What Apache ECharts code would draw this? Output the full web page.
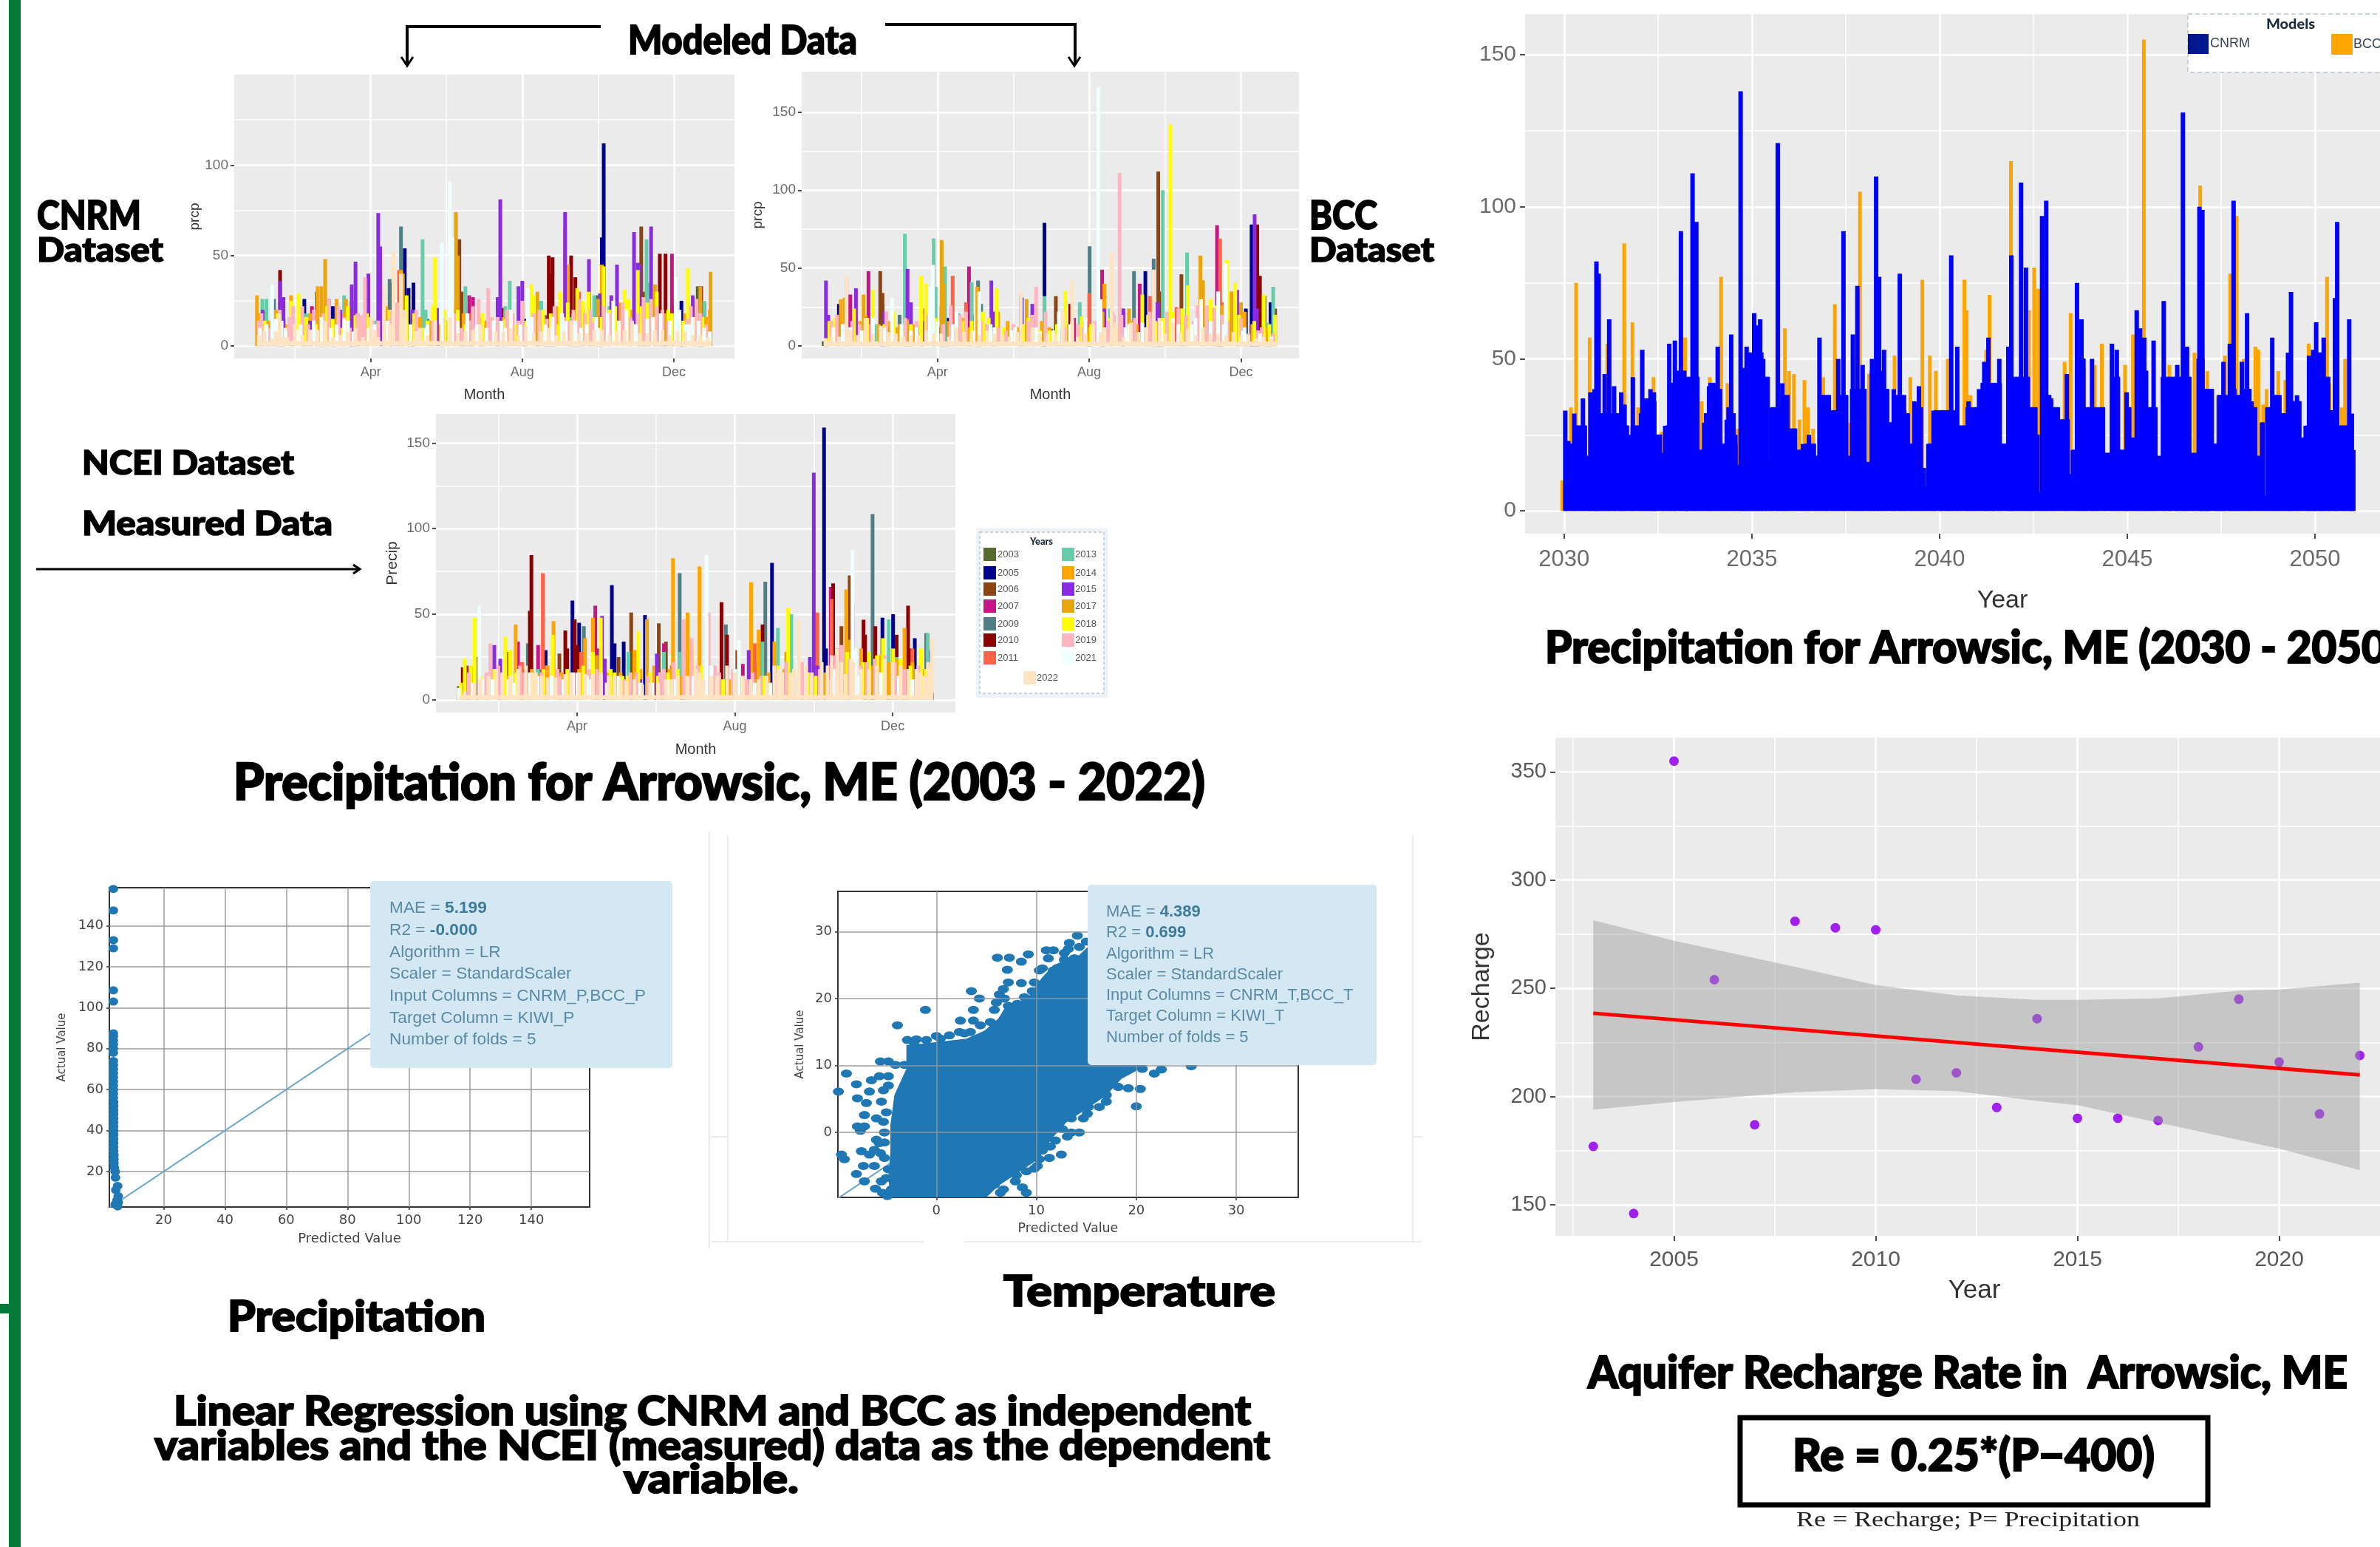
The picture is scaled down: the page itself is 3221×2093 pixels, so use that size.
<!DOCTYPE html>
<html><head><meta charset="utf-8"><title>Precipitation and recharge, Arrowsic ME</title>
<script src="https://cdn.jsdelivr.net/npm/echarts@6/dist/echarts.min.js"></script>
<style>html,body{margin:0;padding:0;background:#fff}#c{width:3221px;height:2093px}</style></head>
<body><div id="c"></div>
<script>
// ---------- legend ----------
const years=['2003','2005','2006','2007','2009','2010','2011','2013','2014','2015','2017','2018','2019','2021','2022'];
const yearColors=['#556B2F','#00008B','#8B4513','#C71585','#4F7F85','#8B0000','#FF6347','#66CDAA','#FFA500','#8A2BE2','#E8A50E','#FFFF00','#FFB6C1','#F0FFFF','#FFE4C4'];
// ---------- CNRM dataset: [month, prcp] ----------
const cnrm2003=[[1.05,8],[1.5,12],[2.58,30],[2.7,14],[3.3,10],[4.3,8],[5.1,15],[6.7,10],[8.6,9],[9.98,28],[11.3,9],[12.63,33]];
const cnrm2005=[[1.7,15],[2.25,26],[3,22],[3.65,18],[4.55,35],[4.9,54],[5,32],[5.13,35],[6.9,8],[8.1,15],[10.1,60],[10.15,112],[12.2,25]];
const cnrm2006=[[4.35,30],[6.34,59],[6.4,30],[8.6,17],[9.6,20],[11.14,66],[11.2,30],[12.1,14]];
const cnrm2007=[[2.45,22],[3.5,25],[4.85,24],[6.6,28],[6.7,27],[8.1,14],[9.95,18],[10.8,20],[11.95,51],[12,22]];
const cnrm2009=[[1.05,6],[1.3,12],[1.45,26],[3.9,27],[4.5,37],[4.8,66],[5.5,15],[7.4,22],[11.35,20]];
const cnrm2010=[[1.61,42],[1.95,14],[7.5,21],[8.7,50],[8.75,40],[8.8,49],[9.29,50],[9.4,38],[11.63,51],[11.78,51],[12.72,33],[12.8,24]];
const cnrm2011=[[2.7,15],[4.75,42],[5.9,14],[6.6,18],[7,12],[7.3,10],[8.4,22],[9.5,30],[11.5,27],[12.4,21]];
const cnrm2013=[[1.14,26],[1.25,26],[2.3,18],[3.3,28],[3.5,22],[4.1,14],[5.37,59],[5.45,20],[6.5,33],[6.9,11],[7.55,22],[7.67,36],[8.5,25],[9.3,16],[9.9,28],[10.3,22],[11.28,59],[11.35,35],[12.2,12],[12.8,25]];
const cnrm2014=[[1,28],[1.05,18],[1.3,14],[1.5,20],[1.75,12],[1.9,28],[2.2,16],[2.4,18],[2.6,33],[2.95,15],[3.1,26],[3.3,18],[3.55,20],[3.8,12],[4.05,11],[4.4,22],[4.8,42],[5.3,16],[5.6,14],[5.85,12],[6.2,25],[6.45,18],[6.9,16],[7.05,14],[7.3,12],[7.5,16],[7.7,10],[8.05,12],[8.2,18],[8.45,15],[8.9,22],[9.13,65],[9.2,45],[9.35,18],[9.5,14],[9.85,16],[10.1,45],[10.25,14],[10.6,24],[10.85,20],[11.25,12],[11.5,26],[11.75,18],[11.9,18],[12.15,14],[12.3,18],[12.55,22],[12.85,16],[12.95,20]];
const cnrm2015=[[1.15,20],[1.4,16],[1.61,36],[1.7,27],[2.4,14],[2.9,26],[3.05,12],[3.2,20],[3.5,34],[3.6,46.6],[3.94,40],[4.2,73.5],[4.25,55],[4.65,18],[5.1,20],[5.75,21],[6,14],[6.5,10],[7.35,27],[7.42,81],[7.9,33],[8,36],[8.6,16],[9.13,74],[9.55,12],[9.76,48],[10.05,29],[10.35,28],[10.5,45],[10.95,63],[11.05,46],[11.1,45],[11.4,66],[11.7,16],[12.2,10],[12.5,28]];
const cnrm2017=[[2.7,33],[2.8,48],[3.35,26],[4.85,40],[6.25,74],[6.3,50],[8.4,30],[10,26],[11.5,34],[12.7,33],[12.97,41]];
const cnrm2018=[[1.1,12],[1.2,14],[1.45,8],[1.55,18],[1.9,25],[2.1,29],[2.3,16],[2.55,12],[2.85,22],[3,15],[3.25,10],[3.4,22],[3.6,17],[3.75,14],[3.9,18],[4.15,12],[4.35,16],[4.5,20],[4.75,12],[4.95,28],[5.15,18],[5.35,10],[5.5,14],[5.65,22],[5.7,49],[5.95,20],[6.05,14],[6.3,20],[6.5,12],[6.75,10],[6.95,18],[7.2,9],[7.35,14],[7.55,15],[7.65,20],[7.85,12],[8.1,14],[8.24,34],[8.3,28],[8.55,20],[8.75,18],[8.95,12],[9,30],[9.2,24],[9.45,32],[9.6,25],[9.75,30],[9.85,16],[10.1,16],[10.15,44],[10.3,20],[10.45,22],[10.7,31],[10.8,26],[11.05,42],[11.15,22],[11.3,24],[11.55,30],[11.85,20],[11.95,18],[12.25,14],[12.37,43],[12.45,15],[12.6,20],[12.75,16]];
const cnrm2019=[[1.05,14],[1.12,18],[1.3,10],[1.45,14],[1.6,20],[1.85,16],[1.95,22],[2.2,22],[2.35,12],[2.5,20],[2.75,18],[2.9,26],[3.15,22],[3.3,16],[3.45,10],[3.65,18],[3.75,17],[3.85,38],[4.05,14],[4.2,14],[4.5,15],[4.55,20],[4.7,24],[4.85,16],[5.2,20],[5.3,10],[5.5,12],[5.65,14],[5.9,16],[6.2,18],[6.4,10],[6.6,14],[6.7,22],[6.85,26],[7.1,32],[7.2,16],[7.35,16],[7.6,20],[7.75,18],[7.9,14],[8,25],[8.3,18],[8.45,20],[8.65,15],[8.85,22],[9.1,16],[9.2,14],[9.35,20],[9.5,26],[9.65,18],[9.8,20],[9.9,13],[10.15,22],[10.3,18],[10.65,24],[10.85,16],[11.05,18],[11.2,27],[11.4,26],[11.55,22],[11.7,20],[11.85,14],[12.05,16],[12.35,15],[12.45,22],[12.6,26],[12.7,18],[12.85,12]];
const cnrm2021=[[1.08,10],[1.25,12],[1.4,34],[1.5,15],[1.65,14],[1.75,10],[2.05,9],[2.15,12],[2.5,14],[2.7,16],[2.95,10],[3.1,12],[3.3,15],[3.4,14],[3.55,8],[3.95,10],[4.1,12],[4.45,14],[4.6,10],[4.9,15],[5.05,12],[5.2,8],[5.45,10],[5.5,12],[5.88,57],[6.09,91],[6.15,60],[6.3,14],[6.55,18],[6.8,12],[7.05,10],[7.25,14],[7.45,14],[7.55,10],[7.7,20],[7.95,12],[8.15,32],[8.25,16],[8.6,12],[8.8,16],[9.05,18],[9.15,14],[9.4,14],[9.55,10],[9.7,12],[9.95,16],[10,10],[10.25,18],[10.4,25],[10.55,14],[10.75,20],[10.95,12],[11,12],[11.3,15],[11.45,16],[11.65,18],[11.9,14],[12.05,38],[12.15,20],[12.3,12],[12.4,12],[12.5,16],[12.65,14],[12.8,10],[12.95,8]];
const cnrm2022=[[1.05,6],[1.2,8],[1.4,4],[1.5,8],[1.6,18],[1.7,5],[1.8,5],[2,12],[2.2,6],[2.4,9],[2.6,9],[2.8,14],[3,5],[3.2,6],[3.4,8],[3.6,10],[3.8,5],[4,16],[4.1,9],[4.2,5],[4.35,33],[4.5,12],[4.6,52],[4.8,40],[4.9,20],[5.1,3],[5.2,8],[5.3,10],[5.5,6],[5.7,14],[5.9,3],[6.1,16],[6.3,7],[6.5,8],[6.7,9],[6.9,12],[7.1,3],[7.3,8],[7.5,8],[7.7,10],[7.9,6],[8.1,11],[8.3,7],[8.5,8],[8.7,10],[8.9,6],[9.1,8],[9.3,14],[9.5,7],[9.7,7],[9.9,9],[10.1,9],[10.3,6],[10.5,8],[10.7,9],[10.9,14],[11.1,7],[11.3,7],[11.5,9],[11.7,9],[11.9,6],[12.1,8],[12.3,8],[12.5,6],[12.7,6],[12.9,5]];
// ---------- BCC dataset: [month, prcp] ----------
const bcc2003=[[1,3],[3.3,6],[5.1,5],[7.3,5],[10.2,6]];
const bcc2005=[[1.4,27],[2.55,27],[3.9,12],[4.27,18],[4.9,20],[6.22,31],[6.82,79],[8.9,15],[9.48,48],[12.13,24],[12.28,78],[12.78,28]];
const bcc2006=[[2.49,48],[2.55,34],[7.12,32],[9.82,112],[9.9,35],[10.43,46],[10.98,42],[12.62,32],[12.9,24]];
const bcc2007=[[1.6,43],[1.7,33],[2.18,48],[4.83,51],[7.6,18],[8.34,49],[9.33,40],[11.37,77.5],[11.42,30]];
const bcc2009=[[3,20],[5.07,42],[5.15,27],[7,11],[8.01,64],[9.18,48],[9.7,56],[10.5,15]];
const bcc2010=[[2.7,12],[7.5,27],[12.43,78],[12.5,45]];
const bcc2011=[[3.6,24],[4.4,45],[4.75,28],[8,34],[8.6,22],[9.6,32],[10.3,25],[11.45,69],[11.5,28]];
const bcc2013=[[2.35,14],[3.14,72],[3.9,69],[3.95,38],[4.2,51],[4.55,21],[4.9,41],[6.82,32],[7.75,28],[8.55,24],[9.94,100],[10.58,60],[11.05,15],[12.7,15],[12.85,38]];
const bcc2014=[[1.45,30],[1.55,12],[1.95,16],[2.1,20],[2.45,14],[2.75,16],[3,14],[3.35,14],[3.5,12],[3.6,20],[4.1,26],[4.3,16],[4.65,18],[4.85,12],[5.05,38],[5.25,14],[5.5,22],[5.85,16],[6.1,12],[6.35,10],[6.75,16],[6.95,12],[7.25,12],[7.45,10],[7.7,10],[7.95,12],[8.4,40],[8.6,18],[8.9,24],[9.1,16],[9.25,14],[9.6,14],[10.05,12],[10.2,16],[10.45,24],[10.65,14],[11.15,18],[11.5,26],[11.7,16],[11.9,28],[12.1,22],[12.3,14],[12.65,12]];
const bcc2015=[[1.06,42],[1.12,20],[1.85,37],[2.6,22],[3.21,49.5],[3.3,28],[3.6,16],[4.05,12],[4.45,10],[5.42,42],[5.5,22],[6.2,32],[6.5,27],[7.2,10],[7.9,16],[8.4,24],[8.9,24],[9.8,28],[10.4,15],[11.25,24],[11.9,36],[12.36,84.5],[12.42,24],[12.75,10]];
const bcc2017=[[1.55,31],[2.05,33],[2.9,12],[3.2,17],[4.11,68],[4.16,40],[5.6,22],[6.35,30],[7.4,14],[8.35,22],[9.05,24],[10.93,58],[11,42],[11.75,35],[12,28]];
const bcc2018=[[1.15,16],[1.3,18],[1.6,14],[1.8,24],[2.15,18],[2.3,36],[2.6,14],[2.85,22],[3.05,11],[3.3,14],[3.57,45],[3.7,40],[3.95,18],[4.35,12],[4.7,16],[4.9,16],[5.2,22],[5.35,18],[5.56,37],[5.75,12],[6.25,14],[6.4,18],[6.7,10],[6.95,10],[7.15,14],[7.37,35.5],[7.55,16],[7.8,19],[8.05,14],[8.3,16],[8.55,18],[8.7,12],[9,12],[9.4,33],[9.55,20],[9.75,16],[9.95,18],[10.14,142],[10.2,22],[10.45,24],[10.6,39],[10.9,20],[11.2,30],[11.35,26],[11.63,55],[11.85,40.5],[11.95,20],[12.35,16],[12.6,33],[12.75,14],[12.9,20]];
const bcc2019=[[1.2,16],[1.35,20],[1.75,16],[1.95,14],[2.25,14],[2.65,22],[2.8,18],[3.15,18],[3.45,16],[3.75,20],[4.15,14],[4.35,26],[4.6,20],[4.75,22],[5.15,16],[5.3,14],[5.6,12],[5.8,10],[6,14],[6.4,16],[6.5,20],[6.6,38],[6.85,22],[7.3,18],[7.35,12],[7.7,14],[7.85,12],[8.15,16],[8.5,16],[8.65,20],[8.8,111],[8.85,20],[9.2,18],[9.6,22],[9.7,16],[10.05,22],[10.35,24],[10.55,20],[10.75,16],[10.85,26],[11.1,26],[11.3,24],[11.5,20],[11.65,16],[12,18],[12.2,8],[12.45,10],[12.55,12],[12.85,8]];
const bcc2021=[[1.25,12],[1.5,14],[1.7,12],[2,10],[2.3,18],[2.6,12],[2.8,31],[3.05,14],[3.3,10],[3.45,12],[3.8,38],[3.88,52],[4,16],[4.4,14],[4.5,22],[4.95,10],[5.1,35],[5.4,14],[5.5,12],[5.95,10],[6.05,12],[6.6,12],[6.7,9],[7.05,10],[7.2,22],[7.5,14],[7.9,18],[8.1,10],[8.24,166],[8.3,30],[8.6,12],[8.95,12],[9.05,14],[9.4,15],[9.5,12],[9.9,16],[10.2,18],[10.35,14],[10.7,14],[10.8,18],[10.95,30],[11.2,16],[11.4,35],[11.55,14],[11.6,53],[12.05,10],[12.1,12],[12.5,8],[12.8,6]];
const bcc2022=[[1.05,5],[1.2,6],[1.4,6],[1.6,45],[1.7,10],[1.9,7],[2.1,18],[2.3,8],[2.5,13],[2.7,9],[2.9,8],[3.1,6],[3.3,7],[3.5,7],[3.7,10],[3.9,8],[4.1,8],[4.3,6],[4.5,12],[4.7,9],[4.9,9],[5.1,7],[5.3,10],[5.5,8],[5.7,7],[5.9,6],[6.1,9],[6.2,35],[6.5,12],[6.7,8],[6.9,8],[7.1,7],[7.3,22],[7.55,42],[7.7,6],[7.9,8],[8.1,14],[8.3,9],[8.4,12],[8.59,60],[8.7,15],[8.9,6],[9.1,15],[9.3,9],[9.5,12],[9.7,49],[9.85,18],[10,8],[10.2,15],[10.4,9],[10.6,11],[10.8,7],[11,12],[11.2,8],[11.4,8],[11.6,7],[11.8,9],[12,6],[12.2,7],[12.4,5],[12.6,6],[12.8,5]];
// ---------- NCEI dataset: [month, Precip] ----------
const ncei2003=[[1,8],[2.65,18],[4.5,5],[6.1,10],[8.4,9],[10.7,12],[13,4]];
const ncei2005=[[3.2,29],[3.88,58],[4.05,45],[4.88,67],[4.95,33],[5.18,34],[5.72,49.5],[8.94,80],[9.03,20],[9.4,28],[10.26,159],[10.31,30],[11.74,48],[12.01,50],[12.56,36],[12.93,29]];
const ncei2006=[[1.5,25],[2.25,28],[3.55,27],[5.05,25],[5.37,51],[6.07,44.7],[6.25,34],[8.06,29],[9.37,37],[10.7,43],[10.91,72.7],[12.2,22]];
const ncei2007=[[1.2,20],[1.5,12],[2.5,34],[3.01,32],[4.46,55],[4.55,30],[6.2,33],[7.1,12],[8.2,21],[10.43,66],[10.6,30]];
const ncei2009=[[2.62,17],[2.75,33],[3.05,18],[4.17,43],[6.2,28],[6.6,74],[7.35,18],[7.77,44],[8.5,22],[8.77,69],[11.49,108.5],[12.85,39],[12.95,20]];
const ncei2010=[[1.1,19],[1.3,19],[2.8,52],[2.84,84.6],[3.7,40.5],[3.75,30],[3.94,47],[4,32],[7.66,57],[7.8,38],[8.7,44],[10,20],[10.49,68],[11.26,46.8],[11.3,38],[11.56,43],[11.65,15],[12.1,38],[12.39,55],[12.45,30]];
const ncei2011=[[2.6,22],[3.13,74],[3.2,20],[4.1,28],[6.4,20],[8.5,33],[10.09,51],[10.45,59],[12,22],[12.5,30]];
const ncei2013=[[2.55,17],[3,18],[5.3,28],[6.2,28],[6.6,28],[7.1,36],[8.1,18],[8.7,34],[9.09,42],[9.43,50],[11.9,47],[12.1,25],[12.89,39]];
const ncei2014=[[1.25,12],[1.7,14],[1.95,16],[2.2,14],[2.44,44],[2.85,18],[3.25,20],[3.4,46],[3.6,16],[3.85,14],[4.05,18],[4.2,36],[4.4,48],[4.75,16],[5.1,16],[5.3,14],[5.45,29],[5.6,18],[5.77,47],[5.95,20],[6.1,16],[6.35,18],[6.43,82.7],[6.65,14],[6.8,51],[7.1,78],[7.3,16],[7.6,14],[7.85,12],[8.2,14],[8.41,68.7],[8.6,41],[8.85,16],[9,34],[9.25,18],[9.55,14],[9.7,18],[10.05,18],[10.3,16],[10.55,20],[10.82,64.5],[10.9,35],[11.05,24],[11.2,30],[11.45,20],[11.7,26],[11.9,22],[12.1,24],[12.3,42],[12.5,22],[12.75,18]];
const ncei2015=[[1.9,32],[2.05,24],[3.1,14],[4.63,49],[4.7,24],[5.6,12],[6.02,27],[7.7,12],[8.35,29],[9.9,25],[10,132.7],[10.1,20],[10.98,56],[12.4,14]];
const ncei2017=[[1.6,12],[3,15],[4.5,26],[5.77,47],[6.9,30],[8.5,12],[9.3,28],[10.9,35],[12.5,20]];
const ncei2018=[[1.05,10],[1.15,24],[1.3,20],[1.4,48],[1.55,14],[1.75,12],[1.9,18],[2.18,37],[2.3,29],[2.45,16],[2.7,14],[2.95,16],[3.15,18],[3.38,38],[3.75,18],[4.15,20],[4.4,28],[4.6,48],[4.85,18],[4.95,16],[5.15,14],[5.3,14],[5.55,40],[5.85,16],[6.05,14],[6.3,16],[6.55,18],[6.9,33],[7.15,20],[7.5,14],[7.7,12],[8,14],[8.25,12],[8.4,10],[8.75,14],[9.1,20],[9.35,53.7],[9.5,18],[9.85,16],[10.05,14],[10.2,16],[10.45,18],[10.65,14],[10.85,28],[11,26],[11.25,22],[11.4,28],[11.6,26],[11.75,36],[12.01,30],[12.2,24],[12.45,20],[12.72,30],[12.85,18],[12.97,19]];
const ncei2019=[[1.25,16],[1.7,16],[1.8,33],[2,20],[2.1,14],[2.55,20],[2.65,16],[3.1,16],[3.5,18],[3.55,14],[3.85,14],[4.3,18],[4.5,18],[4.8,14],[5.2,12],[5.35,16],[5.5,16],[5.8,14],[6.1,16],[6.2,18],[6.45,22],[6.7,47],[6.9,36],[7.05,20],[7.34,51],[7.5,20],[7.6,16],[7.95,18],[8.3,12],[8.45,16],[8.65,14],[9.05,16],[9.3,22],[9.6,14],[9.7,22],[10.15,18],[10.55,26],[10.7,32],[10.9,24],[11.2,20],[11.35,22],[11.55,24],[11.8,26],[12.05,22],[12.3,18],[12.65,20],[12.9,16]];
const ncei2021=[[1,7],[1.35,10],[1.52,55],[1.6,12],[1.85,12],[2.25,12],[2.4,10],[2.8,16],[3,14],[3.35,14],[3.65,12],[3.9,16],[4,16],[4.25,14],[4.35,12],[4.6,14],[4.75,10],[5.05,14],[5.45,12],[5.6,10],[5.9,10],[6.3,12],[6.5,12],[6.95,14],[7.28,84.6],[7.4,20],[7.55,14],[8,18],[8.1,35],[8.5,10],[8.9,10],[9.15,12],[9.45,14],[9.6,25],[9.95,14],[10.35,12],[10.5,18],[10.98,87.4],[11.05,30],[11.15,14],[11.6,16],[11.7,16],[12.15,14],[12.5,12],[12.6,12]];
const ncei2022=[[1.15,5],[1.4,10],[1.55,12],[1.75,14],[1.95,18],[2.1,16],[2.3,14],[2.5,18],[2.7,20],[2.85,16],[2.95,16],[3.1,14],[3.25,13],[3.45,13],[3.7,15],[3.85,16],[4.05,16],[4.2,15],[4.4,15],[4.6,16],[4.8,14],[4.95,14],[5.1,12],[5.25,11],[5.45,12],[5.65,9],[5.85,10],[6.05,10],[6.25,12],[6.4,12],[6.55,14],[6.8,14],[7,18],[7.1,16],[7.2,12],[7.4,14],[7.55,14],[7.8,20],[8,16],[8.2,14],[8.4,12],[8.6,12],[8.8,14],[9,20],[9.1,18],[9.2,16],[9.4,16],[9.5,18],[9.62,47],[9.8,20],[9.95,16],[10.2,22],[10.35,20],[10.45,26],[10.6,30],[10.7,22],[10.8,15],[10.95,24],[11,22],[11.2,18],[11.4,18],[11.6,20],[11.8,24],[12,22],[12.2,20],[12.4,18],[12.6,18],[12.7,16],[12.8,14],[12.9,22],[12.99,36]];
// near-zero readings of 2022 that form the band along the baseline
const cnrmBaseline=[[1,1.5],[13,1.5]];
const bccBaseline=[[1,1.5],[12.96,1.5]];
const nceiBaseline=[[1,1.5],[13,1.5]];
// ---------- model comparison 2030-2050: [year, precipitation] ----------
const cnrmFuture=[[2030.03,33],[2030.11,23],[2030.27,32],[2030.42,28],[2030.5,37],[2030.61,18],[2030.7,39],[2030.81,40],[2030.86,82],[2030.92,78],[2031,28],[2031.08,45],[2031.2,63],[2031.33,41],[2031.44,27],[2031.52,39],[2031.61,35],[2031.72,25],[2031.83,44],[2031.95,25],[2032.08,53],[2032.19,37],[2032.3,40],[2032.39,39],[2032.45,25],[2032.61,19],[2032.69,28],[2032.8,55],[2032.95,56],[2033.11,92],[2033.23,38],[2033.3,42],[2033.42,111],[2033.52,95],[2033.63,20],[2033.73,29],[2033.86,41],[2033.98,37],[2034.09,54],[2034.22,22],[2034.33,30],[2034.45,58],[2034.56,25],[2034.7,138],[2034.78,47],[2034.86,54],[2034.95,47],[2035.06,65],[2035.14,61],[2035.22,63],[2035.3,50],[2035.39,43],[2035.53,34],[2035.69,121],[2035.81,42],[2035.92,37],[2036.05,27],[2036.2,20],[2036.36,22],[2036.52,25],[2036.67,18],[2036.8,57],[2036.98,33],[2037.14,33],[2037.3,50],[2037.44,92],[2037.56,18],[2037.69,58],[2037.81,74],[2037.95,48],[2038.08,16],[2038.2,50],[2038.31,110],[2038.39,77],[2038.52,53],[2038.66,29],[2038.78,40],[2038.94,78],[2039.06,33],[2039.2,22],[2039.33,36],[2039.45,41],[2039.58,14],[2039.7,22],[2039.84,33],[2040.03,31],[2040.19,32],[2040.31,84],[2040.47,54],[2040.58,27],[2040.77,36],[2040.91,31],[2041.05,40],[2041.19,49],[2041.3,57],[2041.44,37],[2041.59,50],[2041.7,22],[2041.83,54],[2041.91,84],[2042.02,40],[2042.17,108],[2042.3,80],[2042.42,32],[2042.61,25],[2042.73,97],[2042.84,102],[2042.97,37],[2043.11,30],[2043.23,29],[2043.39,45],[2043.55,20],[2043.66,75],[2043.78,63],[2043.89,32],[2044.06,50],[2044.2,31],[2044.41,19],[2044.59,55],[2044.72,53],[2044.83,20],[2044.98,39],[2045.11,24],[2045.25,66],[2045.34,60],[2045.45,57],[2045.58,33],[2045.7,56],[2045.83,18],[2045.97,69],[2046.13,42],[2046.33,48],[2046.48,131],[2046.59,54],[2046.75,19],[2046.92,100],[2047,99],[2047.08,40],[2047.17,40],[2047.34,22],[2047.45,37],[2047.56,49],[2047.73,55],[2047.83,102],[2047.95,38],[2048.05,49],[2048.19,65],[2048.31,36],[2048.47,18],[2048.59,29],[2048.73,34],[2048.86,57],[2048.98,37],[2049.13,32],[2049.28,52],[2049.36,72],[2049.52,38],[2049.64,24],[2049.75,28],[2049.84,51],[2049.95,53],[2050.03,62],[2050.14,50],[2050.23,57],[2050.39,33],[2050.53,70],[2050.59,95],[2050.7,28],[2050.81,28],[2050.91,63],[2050.98,32],[2051.02,20]];
const cnrmBase=[[2030,18],[2030.1,22],[2030.3,28],[2030.6,18],[2030.7,32],[2031,32],[2031.3,32],[2031.6,28],[2031.72,20],[2031.75,5],[2031.78,28],[2032,32],[2032.2,36],[2032.45,25],[2032.6,19],[2032.7,28],[2032.85,42],[2033,46],[2033.25,44],[2033.6,20],[2033.73,32],[2033.85,42],[2034.1,40],[2034.2,22],[2034.33,34],[2034.5,32],[2034.56,22],[2034.61,15],[2034.66,36],[2034.9,52],[2035.1,52],[2035.3,44],[2035.47,15],[2035.52,34],[2035.8,38],[2036,27],[2036.2,20],[2036.4,22],[2036.6,22],[2036.7,18],[2036.85,38],[2037.1,33],[2037.3,38],[2037.56,18],[2037.62,40],[2037.9,40],[2038.05,16],[2038.15,46],[2038.5,40],[2038.65,29],[2038.8,38],[2039.1,32],[2039.2,22],[2039.35,34],[2039.55,14],[2039.62,8],[2039.68,22],[2039.85,33],[2040.2,33],[2040.5,28],[2040.7,34],[2040.9,34],[2041.1,42],[2041.4,42],[2041.65,22],[2041.8,44],[2042,44],[2042.4,34],[2042.6,25],[2042.64,6],[2042.7,38],[2042.97,34],[2043.2,30],[2043.46,12],[2043.52,20],[2043.65,50],[2043.88,34],[2044.1,34],[2044.4,19],[2044.55,44],[2044.8,20],[2044.95,34],[2045.1,24],[2045.3,46],[2045.55,34],[2045.8,18],[2045.9,44],[2046.1,44],[2046.4,44],[2046.7,19],[2046.85,50],[2047.05,40],[2047.3,22],[2047.4,38],[2047.7,40],[2047.9,38],[2048.1,40],[2048.3,34],[2048.45,18],[2048.55,29],[2048.65,5],[2048.7,34],[2048.9,38],[2049.1,32],[2049.25,36],[2049.5,36],[2049.63,24],[2049.75,28],[2049.8,44],[2050,52],[2050.2,44],[2050.4,33],[2050.6,28],[2050.8,28],[2051,20],[2051.03,20]];
const bccFuture=[[2029.96,10],[2030.19,34],[2030.33,75],[2030.69,57],[2031.16,55],[2031.61,88],[2031.83,62],[2031.98,34],[2032.39,44],[2032.61,26],[2032.88,37],[2033.23,57],[2033.67,36],[2033.89,44],[2034.19,77],[2034.36,42],[2034.61,27],[2035.47,32],[2035.89,60],[2036,46],[2036.13,45],[2036.28,30],[2036.41,43],[2036.5,34],[2036.64,27],[2036.91,44],[2037.22,68],[2037.45,30],[2037.61,29],[2037.89,105],[2038.13,45],[2038.81,51],[2039.23,44],[2039.55,76],[2039.75,51],[2039.91,46],[2040.23,50],[2040.67,76],[2040.73,66],[2040.83,38],[2041.25,53],[2041.34,71],[2041.44,40],[2041.91,115],[2042.39,66],[2042.53,80],[2042.64,73],[2043.05,34],[2043.34,49],[2043.5,65],[2043.86,47],[2044.14,48],[2044.33,55],[2044.95,48],[2045.16,58],[2045.45,155],[2046.13,48],[2046.8,52],[2046.95,107],[2047.14,46],[2047.42,38],[2047.61,51],[2047.75,78],[2047.92,97],[2048.11,50],[2048.42,54],[2048.5,53],[2048.63,35],[2048.72,40],[2049.03,46],[2049.22,43],[2049.47,26],[2049.84,55],[2050.33,77],[2050.39,42],[2050.72,34],[2050.81,50]];
// ---------- aquifer recharge ----------
const rechargeYears=[2003,2004,2005,2006,2007,2008,2009,2010,2011,2012,2013,2014,2015,2016,2017,2018,2019,2020,2021,2022];
const rechargeValues=[177,146,355,254,187,281,278,277,208,211,195,236,190,190,189,223,245,216,192,219];
const trendLine=[[2003,238.5],[2022,210]];
const bandUpper=[[2003,281.5],[2005,272],[2008,260],[2010,251.5],[2012,246.7],[2014,244.7],[2015,244.7],[2017,245.4],[2019,249],[2020,249.5],[2022,252.6]];
const bandLower=[[2003,194],[2005,197.5],[2008,202],[2010,203.5],[2012,202.5],[2014,198],[2015,196],[2017,188],[2018,184],[2020,176],[2022,166]];
// ---------- linear regression, precipitation: [predicted, actual] ----------
const precipPoints=[[3.6,158],[3.6,147.5],[3.6,133],[3.6,129],[3.6,108.5],[3.6,103],[3.6,87.5],[3.6,86],[3.6,84],[3.6,82],[3.6,80],[3.6,78],[3.6,74],[3.6,72],[3.6,70],[3.6,68],[3.6,66],[3.6,64],[3.6,62],[3.6,60],[3.6,58],[3.6,56],[3.7,54],[3.7,52],[3.7,50],[3.7,48],[3.7,46],[3.7,44],[3.7,42],[3.7,40],[3.7,38],[3.7,36],[3.7,34],[3.7,32],[3.7,30],[3.8,28],[3.8,26],[3.8,24],[3.9,22],[4.2,20],[4.3,17],[5,13],[4.4,11],[5.2,8],[4.8,6],[5.2,5],[4.2,4],[5,3]];
const precipIdentity=[[2.5,2.5],[159,159]];
// ---------- linear regression, temperature: [predicted, actual] ----------
const tempIdentity=[[-9.85,-9.85],[36,36]];
const tempCore=[[-4.6,-9.7],[-4.8,-6.8],[-4.6,-2.8],[-4.6,1.1],[-4.2,5.6],[-3,9.5],[-3,13],[0.1,13.5],[3,14],[4.8,15.2],[6.2,17],[7,19],[9.1,20],[10.5,23],[11.7,25],[14.3,26.5],[15.7,28.5],[19,28.5],[24,11.5],[21,10],[18.5,8],[17,5.5],[15,3.5],[13,1.5],[11.5,-1],[10.2,-4],[8.2,-6],[6.2,-8],[5,-9.7]];
const tempPoints=[[-9,8.8],[-8,7.2],[-9.8,6.1],[-6.7,6.1],[-7.9,5.1],[-7,4.4],[-5.6,10.6],[-4.8,10.6],[-4.1,10.1],[-3.2,10.1],[-6.5,7.8],[-5.7,8.4],[-4.8,8.4],[-5.3,6.3],[-5.5,4.6],[-7.2,2.6],[-7.9,0.9],[-7.2,0.9],[-7.6,0.25],[-6,2.1],[-5.3,1.6],[-6,-1.1],[-5.7,-1.6],[-6.2,-2.6],[-7.5,-2.8],[-6.7,-3.3],[-5.6,-3.1],[-9.5,-3.3],[-9.2,-4],[-7.3,-5],[-6.2,-5],[-8,-6.2],[-7.2,-7.3],[-5.5,-7.3],[-6.1,-8.4],[-5,-6.8],[-4.8,-5.5],[-5.2,-1.5],[-5,3],[-4.8,7],[-5.2,-3.8],[-5.4,-9],[-5.2,0],
[-3.9,16],[-1.1,18.3],[-2.9,13.8],[-1,13.8],[-2.2,13],[0.4,14],[1.3,14.5],[2.4,16.7],[3.7,18.3],[3.7,16.7],[2.3,15],[3.4,15],[3.5,21.1],[4.3,20],[5.8,18.3],[6,19.4],[6.3,20.6],[6.1,26.1],[7.3,26.1],[9.2,26.6],[8.5,25.5],[7.1,24.3],[7.2,22.4],[8.5,22.3],[6.7,21.4],[9.6,21.1],[8.8,20.2],[8.1,19.2],[7.2,18.9],[11,27.2],[11.7,27.2],[10.3,24.2],[11.7,24.2],[12.8,26.8],[13.3,28.3],[14.1,29.4],[14.3,27.7],[12.8,25.8],[13.8,26],[15,28.5],[-2,13.9],[0,14.4],[2.8,14.8],[4.4,16],[5.4,16.5],[6.8,20],[9.8,22.4],[10.6,24.5],[11.2,26],[13.2,27.4],
[25.5,9.9],[20.6,9.5],[21.8,8.8],[22.5,9.4],[19.2,6.6],[20.4,6.5],[20,3.9],[18.3,9.3],[18.8,9.6],[17,4.6],[17,5.6],[14.7,2.1],[13.5,2.1],[13.1,-0.6],[14.3,0],[13.5,0],[12.5,-3.3],[11.4,-2.1],[10.6,-2.7],[11.3,-3.8],[10.3,-4],[9.8,-5.4],[9,-5.8],[7.9,-7.3],[8.6,-8.2],[9,-9],[6.7,-8.5],[5.8,-7.8],[15.2,3.8],[16,6],[12,2],[-4.9,-9.5],[-4.5,-8.5],[18.2,6.8],[16.3,3.8],[15.1,2.8],[12.6,0.5],[11.9,-1.2],[10.1,-5],[8,-6.4],[6.4,-9],[17.8,8.2]];
// ---------- axis ticks and labels ----------
const monthTicks=[4,8,12], monthMinor=[2,6,10], monthNames={4:'Apr',8:'Aug',12:'Dec'};
const cnrmTicks=[0,50,100], prcpTicks=[0,50,100,150], prcpMinor=[25,75,125];
const futureTicks=[2030,2035,2040,2045,2050], futureMinor=[2032.5,2037.5,2042.5,2047.5];
const rechargeXTicks=[2005,2010,2015,2020], rechargeXMinor=[2002.5,2007.5,2012.5,2017.5];
const rechargeYTicks=[150,200,250,300,350], rechargeYMinor=[175,225,275,325];
const precipXTicks=[20,40,60,80,100,120,140], precipYTicks=[20,40,60,80,100,120,140];
const tempTicks=[0,10,20,30];

// layout
const grids=[
 {left:317,top:101,width:677,height:384},   // CNRM
 {left:1085,top:97,width:673,height:388},   // BCC
 {left:590,top:560,width:703,height:404},   // NCEI
 {left:2064,top:19,width:1157,height:703},  // future
 {left:2105,top:998,width:1116,height:674}, // recharge
];
const regGrids=[
 {left:148,top:1201,width:650,height:432},
 {left:1134,top:1206,width:623,height:414},
];
const option={animation:false,backgroundColor:'#fff',grid:[],xAxis:[],yAxis:[],series:[],graphic:[]};
grids.forEach(g=>option.grid.push(Object.assign({show:true,backgroundColor:'#ebebeb',borderWidth:0},g)));
regGrids.forEach(g=>option.grid.push(Object.assign({show:true,backgroundColor:'#fff',borderWidth:2,borderColor:'#333'},g)));

function gg(kind,gi,min,max,ticks,minor,o){
  o=o||{};
  const list=kind==='x'?option.xAxis:option.yAxis;
  const pos=kind==='x'?'bottom':'left';
  list.push({type:'value',gridIndex:gi,min,max,scale:true,position:pos,
    axisLine:{show:false,onZero:false},
    axisTick:{show:true,length:o.tick||5,customValues:ticks,lineStyle:{color:'#4d4d4d',width:2}},
    axisLabel:{show:true,customValues:ticks,color:o.color||'#6b6b6b',fontFamily:'Liberation Sans',fontSize:o.size||18,margin:o.margin||8,
      formatter:o.fmt||(v=>String(v))},
    splitLine:{show:true,lineStyle:{color:'#fff',width:o.major||2.5}},
    name:o.name||'',nameLocation:'middle',nameGap:o.gap||30,
    nameTextStyle:{color:'#333',fontFamily:'Liberation Sans',fontSize:o.nameSize||19}});
  list.push({type:'value',gridIndex:gi,min,max,scale:true,position:pos,
    axisLine:{show:false,onZero:false},axisLabel:{show:false},
    axisTick:{show:false,customValues:minor},
    splitLine:{show:true,lineStyle:{color:'#fff',width:o.minor||1.5}}});
  return list.length-2;
}
const monthFmt=v=>monthNames[v]||'';
const panels=[
 {gi:0,xr:[0.40,13.60],yr:[-6.9,150],ticks:cnrmTicks,name:'prcp',gap:38,base:cnrmBaseline,data:[cnrm2003,cnrm2005,cnrm2006,cnrm2007,cnrm2009,cnrm2010,cnrm2011,cnrm2013,cnrm2014,cnrm2015,cnrm2017,cnrm2018,cnrm2019,cnrm2021,cnrm2022]},
 {gi:1,xr:[0.42,13.53],yr:[-8,176],ticks:prcpTicks,name:'prcp',gap:50,base:bccBaseline,data:[bcc2003,bcc2005,bcc2006,bcc2007,bcc2009,bcc2010,bcc2011,bcc2013,bcc2014,bcc2015,bcc2017,bcc2018,bcc2019,bcc2021,bcc2022]},
 {gi:2,xr:[0.42,13.59],yr:[-7.4,167],ticks:prcpTicks,name:'Precip',gap:48,base:nceiBaseline,data:[ncei2003,ncei2005,ncei2006,ncei2007,ncei2009,ncei2010,ncei2011,ncei2013,ncei2014,ncei2015,ncei2017,ncei2018,ncei2019,ncei2021,ncei2022]},
];
panels.forEach(p=>{
  const xi=gg('x',p.gi,p.xr[0],p.xr[1],monthTicks,monthMinor,{fmt:monthFmt,name:'Month',gap:p.gi===2?40:39,margin:10,size:18,nameSize:20});
  const yi=gg('y',p.gi,p.yr[0],p.yr[1],p.ticks,prcpMinor,{name:p.name,gap:p.gap,margin:8,size:19,nameSize:p.gi===2?21:19});
  p.data.forEach((d,i)=>{
    option.series.push({type:'bar',name:years[i],xAxisIndex:xi,yAxisIndex:yi,data:d,barWidth:5,barGap:'-100%',z:2+i,itemStyle:{color:yearColors[i]}});
  });
  option.series.push({type:'line',name:'2022 baseline',xAxisIndex:xi,yAxisIndex:yi,data:p.base,showSymbol:false,z:18,lineStyle:{color:yearColors[14],width:6}});
});
// future models
{
  const xi=gg('x',3,2028.96,2051.73,futureTicks,futureMinor,{margin:20,size:31,tick:7});
  const yi=gg('y',3,-7.5,163.4,prcpTicks,prcpMinor,{margin:12,size:30,tick:7});
  option.series.push({type:'bar',name:'BCC',xAxisIndex:xi,yAxisIndex:yi,data:bccFuture,barWidth:5,barGap:'-100%',z:3,itemStyle:{color:'#FFA500'}});
  option.series.push({type:'bar',name:'CNRM',xAxisIndex:xi,yAxisIndex:yi,data:cnrmFuture,barWidth:6,barGap:'-100%',z:4,itemStyle:{color:'#0000FF'}});
  option.series.push({type:'line',name:'CNRM base',xAxisIndex:xi,yAxisIndex:yi,data:cnrmBase,step:'end',showSymbol:false,z:4,
    lineStyle:{color:'#0000FF',width:1},areaStyle:{color:'#0000FF',opacity:1}});
}
// recharge
{
  const xi=gg('x',4,2002.06,2022.5,rechargeXTicks,rechargeXMinor,{margin:18,size:30,tick:7,color:'#5a5a5a'});
  const yi=gg('y',4,135.7,365.8,rechargeYTicks,rechargeYMinor,{name:'Recharge',gap:82,margin:12,size:29,nameSize:34,tick:7,color:'#5a5a5a'});
  option.series.push({type:'scatter',name:'Recharge',xAxisIndex:xi,yAxisIndex:yi,z:3,symbolSize:13,itemStyle:{color:'#A020F0',opacity:1},
    data:rechargeYears.map((y,i)=>[y,rechargeValues[i]])});
  option.series.push({type:'custom',name:'CI',xAxisIndex:xi,yAxisIndex:yi,z:4,silent:true,data:[[2003,238.5]],
    renderItem:(params,api)=>{
      const pts=bandUpper.concat(bandLower.slice().reverse()).map(p=>api.coord(p));
      return {type:'polygon',shape:{points:pts},style:{fill:'rgba(153,153,153,0.45)'}};
    }});
  option.series.push({type:'line',name:'Trend',xAxisIndex:xi,yAxisIndex:yi,z:5,data:trendLine,showSymbol:false,lineStyle:{color:'#FF0000',width:5}});
}
// regression axes
function mpl(kind,gi,min,max,ticks,o){
  const list=kind==='x'?option.xAxis:option.yAxis;
  list.push({type:'value',gridIndex:gi,min,max,scale:true,z:o.z||0,position:kind==='x'?'bottom':'left',
    axisLine:{show:false,onZero:false},
    axisTick:{show:true,length:4,customValues:ticks,lineStyle:{color:'#333',width:1.5}},
    axisLabel:{customValues:ticks,color:'#444',fontFamily:'DejaVu Sans',fontSize:o.size||18,margin:o.margin||9},
    splitLine:{show:true,lineStyle:{color:'rgba(150,150,150,0.7)',width:2}},
    name:o.name,nameLocation:'middle',nameGap:o.gap,
    nameTextStyle:{color:'#444',fontFamily:'DejaVu Sans',fontSize:o.nameSize||16}});
  return list.length-1;
}
{
  const xi=mpl('x',5,2.3,159,precipXTicks,{name:'Predicted Value',gap:34,margin:9,nameSize:18});
  const yi=mpl('y',5,2.7,158.6,precipYTicks,{name:'Actual Value',gap:56,nameSize:15,margin:8});
  option.series.push({type:'line',name:'Identity',xAxisIndex:xi,yAxisIndex:yi,z:3,data:precipIdentity,showSymbol:false,lineStyle:{color:'#6aa6cc',width:2}});
  option.series.push({type:'scatter',name:'Precipitation',xAxisIndex:xi,yAxisIndex:yi,z:4,symbolSize:[13,11],itemStyle:{color:'#1f77b4',opacity:1},data:precipPoints});
}
{
  const xi=mpl('x',6,-9.85,36.2,tempTicks,{name:'Predicted Value',gap:33,margin:9,nameSize:17.5,z:6});
  const yi=mpl('y',6,-9.7,36,tempTicks,{name:'Actual Value',gap:43,nameSize:15,margin:8,z:6});
  option.series.push({type:'line',name:'Identity',xAxisIndex:xi,yAxisIndex:yi,z:3,data:tempIdentity,showSymbol:false,lineStyle:{color:'#6aa6cc',width:2}});
  option.series.push({type:'custom',name:'Temperature dense',xAxisIndex:xi,yAxisIndex:yi,z:4,silent:true,data:[[0,0]],clip:true,
    renderItem:(params,api)=>{
      const b=params.coordSys;
      const pts=tempCore.map(p=>{const c=api.coord(p);return [Math.max(b.x,c[0]),Math.min(b.y+b.height,c[1])];});
      return {type:'polygon',shape:{points:pts},style:{fill:'#1f77b4'}};
    }});
  option.series.push({type:'scatter',name:'Temperature',xAxisIndex:xi,yAxisIndex:yi,z:4,symbolSize:[15,11],itemStyle:{color:'#1f77b4',opacity:1},data:tempPoints});
}

// ---------- annotation helpers ----------
const cv=document.createElement('canvas').getContext('2d');
const HEAD='Lato';
function fit(str,left,right,cy,size,weight,fam,fill,noStroke){
  weight=weight||900;fam=fam||HEAD;
  const font=`${weight} ${size}px "${fam}"`;
  cv.font=font;const w=cv.measureText(str).width;
  const style={text:str,x:0,y:0,font,fill:fill||'#000',textAlign:'left',textVerticalAlign:'middle'};
  if(!noStroke){style.stroke=fill||'#000';style.lineWidth=Math.max(0.5,size*0.035);}
  return {type:'text',x:left,y:cy,scaleX:(right-left)/w,z:100,style};
}
function plain(str,x,y,size,fill,weight,fam,align){
  return {type:'text',x,y,z:100,style:{text:str,x:0,y:0,font:`${weight||400} ${size}px "${fam||'Liberation Sans'}"`,fill:fill||'#555',textAlign:align||'left',textVerticalAlign:'middle'}};
}
function poly(points,width,color,dash){
  return {type:'polyline',z:99,shape:{points},style:{stroke:color||'#000',lineWidth:width||3,fill:null,lineDash:dash||null}};
}
function box(x,y,w,h,fill,extra){
  return {type:'rect',z:98,shape:Object.assign({x,y,width:w,height:h},extra&&extra.r?{r:extra.r}:{}),style:Object.assign({fill},extra&&extra.style||{})};
}
const G=option.graphic;
G.push(box(12,0,16,2093,'#047A38'),box(0,1764,12,13,'#047A38'));
G.push(poly([[813,36],[551,36],[551,86]],4),poly([[543,77],[551,89],[559,77]],3));
G.push(poly([[1198,33],[1455,33],[1455,86]],4),poly([[1446,77],[1454,89],[1462,77]],3));
G.push(poly([[49,770],[484,770]],3),poly([[478,764],[487,770],[478,776]],3));
G.push(fit('Modeled Data',850,1160,56,53));
G.push(fit('CNRM',50,191,293,53),fit('Dataset',50,221,339,45));
G.push(fit('BCC',1772,1864,293,53),fit('Dataset',1772,1941,339,45));
G.push(fit('NCEI Dataset',111,398,627,46),fit('Measured Data',111,450,709,46));
G.push(fit('Precipitation for Arrowsic, ME (2003 - 2022)',316,1631,1060,68));
G.push(fit('Precipitation for Arrowsic, ME (2030 - 2050)',2091,3246,878,60));
G.push(fit('Aquifer Recharge Rate in  Arrowsic, ME',2149,3177,1859,60));
G.push(fit('Precipitation',308,657,1783,57),fit('Temperature',1358,1726,1749,57));
G.push(fit('Linear Regression using CNRM and BCC as independent',235,1693,1910,55));
G.push(fit('variables and the NCEI (measured) data as the dependent',209,1719,1957,55));
G.push(fit('variable.',844,1081,2002,55));
G.push({type:'rect',z:98,shape:{x:2355,y:1918,width:633,height:118},style:{fill:'#fff',stroke:'#000',lineWidth:7}});
G.push(fit('Re = 0.25*(P\u2212400)',2426,2916,1971,60));
G.push(fit('Re = Recharge; P= Precipitation',2431,2896,2057,30,400,'Liberation Serif','#222',true));
// axis titles whose centre lies off the clipped plot
G.push(plain('Year',2710,813,34,'#333',400,'Liberation Sans','center'));
G.push(plain('Year',2672,1746,35,'#333',400,'Liberation Sans','center'));
// NCEI legend
G.push(box(1321,715,178,229,'#eef2f6'));
G.push({type:'rect',z:98,shape:{x:1326,y:720,width:168,height:218},style:{fill:'#fff',stroke:'#b9c6d6',lineWidth:1.5,lineDash:[4,3]}});
G.push(fit('Years',1394,1425,733,13,900,HEAD,'#1c2a3a',true));
const legendRows=[750,775,797,820,844,866,890];
years.slice(0,7).forEach((y,i)=>{G.push(box(1331,legendRows[i]-9,17,18,yearColors[i]),plain(y,1350,legendRows[i],13));});
years.slice(7,14).forEach((y,i)=>{G.push(box(1437,legendRows[i]-9,17,18,yearColors[i+7]),plain(y,1455,legendRows[i],13));});
G.push(box(1385,908,17,18,yearColors[14]),plain(years[14],1403,917,13));
// future legend
G.push({type:'rect',z:98,shape:{x:2961,y:19,width:280,height:79},style:{fill:'#fff',stroke:'#b9c6d6',lineWidth:1.5,lineDash:[6,4]}});
G.push(fit('Models',3067,3133,33,18,900,HEAD,'#1c2a3a',true));
G.push(box(2961,46,28,27,'#00188F'),plain('CNRM',2991,59,18,'#3a4654'));
G.push(box(3155,46,29,28,'#FFA500'),plain('BCC',3185,60,18,'#3a4654'));
// info boxes
function info(x,y,w,h,tx,rows,lines,fs){
  G.push({type:'rect',z:98,shape:{x,y,width:w,height:h,r:5},style:{fill:'#D4E8F3'}});
  lines.forEach((l,i)=>{
    G.push({type:'text',z:100,x:tx,y:rows[i],style:{text:l,x:0,y:0,fontFamily:'Liberation Sans',fontSize:fs,fill:'#5b8aa5',textAlign:'left',textVerticalAlign:'middle',
      rich:{b:{fontFamily:'Liberation Sans',fontSize:fs,fontWeight:'bold',fill:'#3f7a9a'}}}});
  });
}
info(501,1192,409,253,527,[1229,1259,1289,1318,1348,1378,1407],['MAE = {b|5.199}','R2 = {b|-0.000}','Algorithm = LR','Scaler = StandardScaler','Input Columns = CNRM_P,BCC_P','Target Column = KIWI_P','Number of folds = 5'],22.7);
info(1472,1197,391,244,1497,[1234,1262,1291,1319,1347,1375,1404],['MAE = {b|4.389}','R2 = {b|0.699}','Algorithm = LR','Scaler = StandardScaler','Input Columns = CNRM_T,BCC_T','Target Column = KIWI_T','Number of folds = 5'],22);
[[[985,1130],[985,1680]],[[1912,1130],[1912,1680]],[[962,1680],[1250,1680]],[[1305,1680],[1925,1680]],[[962,1538],[985,1538]],[[1912,1538],[1925,1538]],[[960,1125],[960,1690]]].forEach(p=>{const e=poly(p,2,'#ececec');e.z=1;G.push(e);});

const chart=echarts.init(document.getElementById('c'),null,{renderer:'canvas',width:3221,height:2093});
chart.setOption(option);
</script></body></html>
